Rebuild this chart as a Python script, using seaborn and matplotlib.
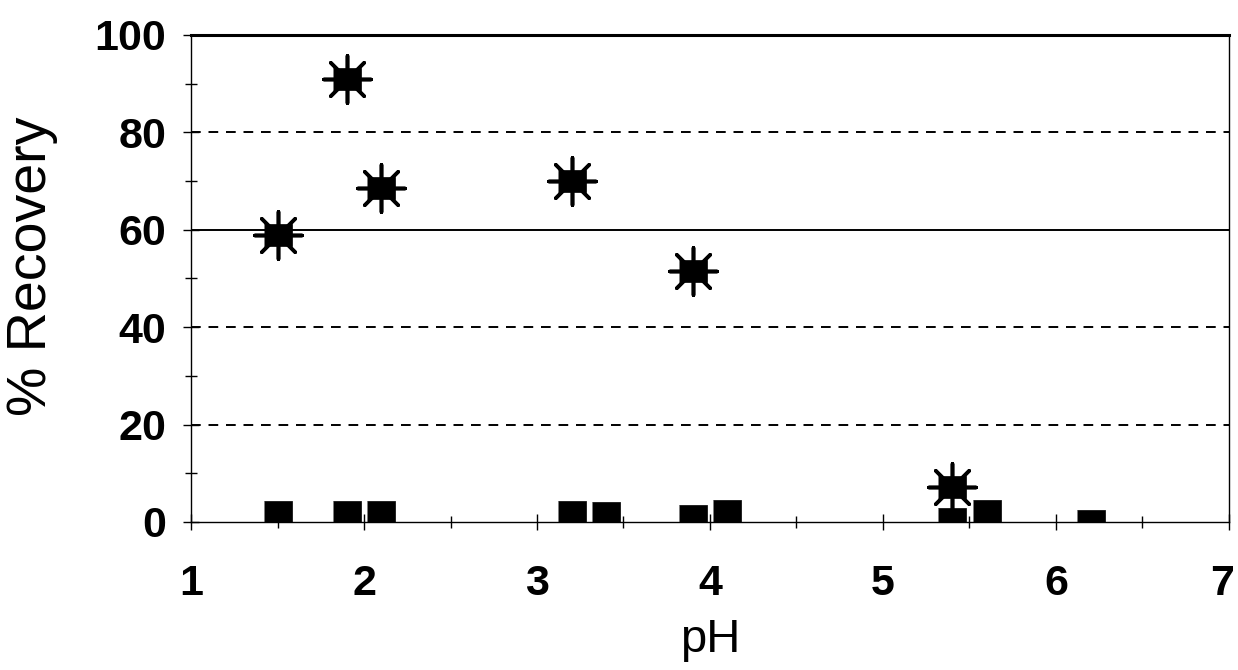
import matplotlib
matplotlib.use("Agg")
import matplotlib.pyplot as plt
import matplotlib.transforms as mtransforms
import seaborn as sns
import pandas as pd
from matplotlib.ticker import MultipleLocator

# Data
ph_star = [1.5, 1.9, 2.1, 3.2, 3.9, 5.4]
rec_star = [59.0, 91.0, 68.5, 70.0, 51.5, 7.2]

ph_sq = [1.5, 1.9, 2.1, 3.2, 3.4, 3.9, 4.1, 5.4, 5.6, 6.2]
rec_sq = [2.0, 2.0, 2.0, 2.0, 1.8, 1.2, 2.3, 0.6, 2.2, 0.2]

x_ticks = [1, 2, 3, 4, 5, 6, 7]
y_ticks = [0, 20, 40, 60, 80, 100]
dashed_levels = [20, 40, 80]
solid_levels = [60]

sns.set_style("white")
plt.rcParams['font.family'] = ['Liberation Sans', 'DejaVu Sans']
plt.rcParams['text.color'] = 'black'
plt.rcParams['axes.labelcolor'] = 'black'
plt.rcParams['xtick.color'] = 'black'
plt.rcParams['ytick.color'] = 'black'

df_star = pd.DataFrame({"pH": ph_star, "rec": rec_star})
df_sq = pd.DataFrame({"pH": ph_sq, "rec": rec_sq})

fig = plt.figure(figsize=(12.38, 6.70), dpi=100)
ax = fig.add_axes([0.1543, 0.2209, 0.9927 - 0.1543, 0.9478 - 0.2209])

for lv in dashed_levels:
    ax.axhline(lv, color="black", lw=1.4, ls=(0, (5, 4)), zorder=1)
for lv in solid_levels:
    ax.axhline(lv, color="black", lw=1.4, zorder=1)

rect = [(-1, -0.78), (1, -0.78), (1, 0.78), (-1, 0.78)]

# asterisk spokes
sns.scatterplot(data=df_star, x="pH", y="rec", ax=ax, marker=(8, 2, 0),
                s=34 ** 2, color="black", linewidth=2.6, zorder=3, legend=False)
# squares of series 1
sns.scatterplot(data=df_star, x="pH", y="rec", ax=ax, marker=rect,
                s=19.5 ** 2, color="black", edgecolor="black", linewidth=0.5,
                zorder=4, legend=False)
# squares of series 2
sns.scatterplot(data=df_sq, x="pH", y="rec", ax=ax, marker=rect,
                s=19.5 ** 2, color="black", edgecolor="black", linewidth=0.5,
                zorder=4, legend=False)

ax.set_xlim(1, 7)
ax.set_ylim(0, 100)
ax.set_xticks(x_ticks)
ax.set_yticks(y_ticks)
ax.xaxis.set_minor_locator(MultipleLocator(0.5))
ax.yaxis.set_minor_locator(MultipleLocator(10))
ax.tick_params(axis="both", which="both", direction="inout", color="black",
               labelcolor="black", width=1.0,
               bottom=True, left=True, top=False, right=False)
ax.tick_params(axis="both", which="major", length=12)
ax.tick_params(axis="both", which="minor", length=9)
ax.tick_params(axis="x", which="major", pad=24)
ax.tick_params(axis="y", which="major", pad=12)
for lab in ax.get_xticklabels() + ax.get_yticklabels():
    lab.set_fontweight("bold")
    lab.set_fontsize(31)
last = ax.get_xticklabels()[-1]
last.set_transform(last.get_transform() +
                   mtransforms.ScaledTranslation(-7 / 100, 0, fig.dpi_scale_trans))

for side in ["left", "bottom", "right"]:
    ax.spines[side].set_visible(True)
    ax.spines[side].set_color("black")
    ax.spines[side].set_linewidth(1.0)
ax.spines["top"].set_visible(True)
ax.spines["top"].set_color("black")
ax.spines["top"].set_linewidth(2.2)

ax.set_xlabel("pH", fontsize=34, labelpad=10, color="black")
ax.set_ylabel("% Recovery", fontsize=40, color="black")
ax.yaxis.set_label_coords(-0.128, 0.526)

fig.savefig("out.png", dpi=100, facecolor="white")
